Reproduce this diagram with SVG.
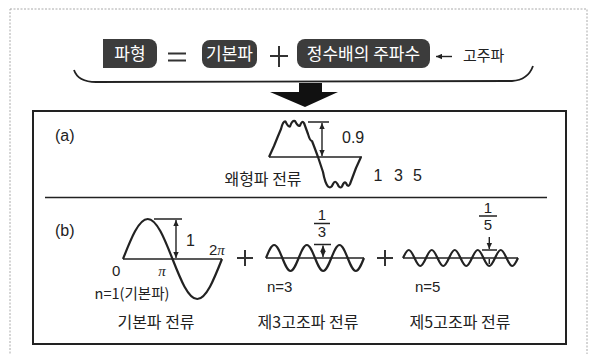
<svg xmlns="http://www.w3.org/2000/svg" width="593" height="354" viewBox="0 0 593 354">
<style>
text{font-family:'Liberation Sans','Noto Sans CJK KR',sans-serif;fill:#222}
.kr{font-family:'Noto Sans CJK KR','Liberation Sans',sans-serif}
.w{fill:#fff;font-size:17px}
.lbl{font-size:16px}
.sm{font-size:15px}
.pi{font-family:'Liberation Serif',serif;font-style:italic}
.ln{stroke:#222;stroke-width:1.5;fill:none}
.wave{stroke:#222;stroke-width:2.2;fill:none;stroke-linejoin:round}
.box{fill:#3c3c3c}
.op{stroke:#333;stroke-width:2;fill:none}
.arr{stroke:#222;stroke-width:1.4;fill:none;marker-end:url(#ah)}
.darr{stroke:#222;stroke-width:1.4;fill:none;marker-start:url(#ah);marker-end:url(#ah)}
</style>
<defs>
<marker id="ah" viewBox="0 0 10 10" refX="10" refY="5" markerWidth="6" markerHeight="6" markerUnits="userSpaceOnUse" orient="auto-start-reverse">
<path d="M0,0.5 L10,5 L0,9.5 z" fill="#222"/>
</marker>
</defs>
<rect id="frame" x="10" y="9" width="577" height="360" fill="none" stroke="#aaa" stroke-width="1" stroke-dasharray="2,1.5"/>

<g id="formula">
<g id="n-waveform">
<path class="box" d="M103,39 H149 A8,8 0 0 1 157,47 V60 A8,8 0 0 1 149,68 H103 Z"/>
<text class="kr w" x="130" y="60" text-anchor="middle">파형</text>
</g>
<g id="eq"><path class="op" d="M168,53.5 H186 M168,60.5 H186"/></g>
<g id="n-fund">
<rect class="box" x="202" y="40" width="55" height="28" rx="8"/>
<text class="kr w" x="229.5" y="60" text-anchor="middle">기본파</text>
</g>
<g id="plus-top"><path class="op" d="M270,56 H288 M279,46 V67"/></g>
<g id="n-harm">
<rect class="box" x="297" y="39" width="133" height="29" rx="8"/>
<text class="kr w" x="363.5" y="60" text-anchor="middle">정수배의 주파수</text>
</g>
<g id="n-high">
<text class="kr sm" x="463" y="61" font-size="16">고주파</text>
</g>
</g>

<g id="connectors">
<path class="arr" d="M452,56.5 H436"/>
<path d="M74,70 Q78,82 96,82 L512,81 Q528,80 533,66" stroke="#222" stroke-width="1.8" fill="none"/>
<polygon points="299,83 322,83 322,92 338,92 305,107 270,92 299,92" fill="#111"/>
</g>

<g id="panel">
<rect x="33" y="111" width="533" height="233" fill="none" stroke="#222" stroke-width="2"/>
<line x1="45" y1="197.5" x2="547" y2="197.5" stroke="#222" stroke-width="1.6"/>
</g>

<g id="a-distorted">
<text class="lbl" x="55" y="141">(a)</text>
<line class="ln" x1="269" y1="157" x2="362" y2="157"/>
<path class="wave" stroke-width="1.8" d="M269,157 L274,146 Q278,136 281,129 Q283,121 285.5,121.5 Q288,127 290,126.5 Q292,120 295,121 Q298,127 300,125.5 Q302,120 304,123 L308,134 Q310,141 312,141 Q314,146 318,157 L323,172 Q325,183 328,186.5 Q331,189 333,184 Q335,179.5 337.5,184 Q339.5,189 342,186.5 Q344,181 346,183 Q348,188 350,184 L356,168 L361,157"/>
<line class="ln" x1="308" y1="122" x2="329" y2="122"/>
<line class="darr" x1="322" y1="123" x2="322" y2="156"/>
<text class="lbl" x="342" y="143">0.9</text>
<text class="kr lbl" x="263" y="185" text-anchor="middle">왜형파 전류</text>
<text class="lbl" x="378" y="181" text-anchor="middle">1</text>
<text class="lbl" x="398.5" y="181" text-anchor="middle">3</text>
<text class="lbl" x="417.5" y="181" text-anchor="middle">5</text>
</g>

<g id="b-fundamental">
<text class="lbl" x="55" y="236">(b)</text>
<line class="ln" x1="123" y1="259" x2="222" y2="259"/>
<path class="wave" d="M123,259 C131.07,238.51 138.79,219 147.75,219 C156.71,219 164.43,238.51 172.5,259 C180.57,279.49 188.29,299 197.25,299 C206.21,299 213.93,279.49 222,259"/>
<line class="ln" x1="154" y1="219" x2="182" y2="219"/>
<line class="darr" x1="176" y1="220" x2="176" y2="258"/>
<text class="lbl" x="186" y="246">1</text>
<text class="sm" x="209" y="255">2<tspan class="pi">π</tspan></text>
<text class="sm" x="112" y="276">0</text>
<text class="sm pi" x="162" y="276" text-anchor="middle">π</text>
<text class="kr" x="132" y="299" font-size="14.5" text-anchor="middle">n=1(기본파)</text>
<text class="kr lbl" x="156" y="328" text-anchor="middle">기본파 전류</text>
</g>

<g id="plus1"><path class="op" d="M237,258 H253 M245,250 V266"/></g>

<g id="b-third">
<text class="sm" x="322" y="220" text-anchor="middle">1</text>
<line class="ln" x1="314" y1="223.5" x2="330" y2="223.5"/>
<text class="sm" x="322" y="237" text-anchor="middle">3</text>
<line class="ln" x1="266" y1="258" x2="364" y2="258"/>
<path class="wave" d="M266,258 c2.663,-6.66 5.211,-13 8.167,-13 c2.956,0 5.504,6.34 8.167,13 c2.663,6.66 5.211,13 8.167,13 c2.956,0 5.504,-6.34 8.167,-13 c2.663,-6.66 5.211,-13 8.167,-13 c2.956,0 5.504,6.34 8.167,13 c2.663,6.66 5.211,13 8.167,13 c2.956,0 5.504,-6.34 8.167,-13 c2.663,-6.66 5.211,-13 8.167,-13 c2.956,0 5.504,6.34 8.167,13 c2.663,6.66 5.211,13 8.167,13 c2.956,0 5.504,-6.34 8.167,-13"/>
<line class="ln" x1="314" y1="244.5" x2="331" y2="244.5"/>
<line class="darr" stroke-width="1.2" x1="323" y1="245.5" x2="323" y2="257"/>
<text class="sm" x="267" y="292">n=3</text>
<text class="kr lbl" x="308" y="328" text-anchor="middle">제3고조파 전류</text>
</g>

<g id="plus2"><path class="op" d="M377,258 H393 M385,250 V266"/></g>

<g id="b-fifth">
<text class="sm" x="488" y="213" text-anchor="middle">1</text>
<line class="ln" x1="479" y1="216" x2="497" y2="216"/>
<text class="sm" x="488" y="230" text-anchor="middle">5</text>
<line class="ln" x1="403" y1="258" x2="518" y2="258"/>
<path class="wave" d="M403,258 c1.875,-4.098 3.669,-8 5.75,-8 c2.081,0 3.875,3.902 5.75,8 c1.875,4.098 3.669,8 5.75,8 c2.081,0 3.875,-3.902 5.75,-8 c1.875,-4.098 3.669,-8 5.75,-8 c2.081,0 3.875,3.902 5.75,8 c1.875,4.098 3.669,8 5.75,8 c2.081,0 3.875,-3.902 5.75,-8 c1.875,-4.098 3.669,-8 5.75,-8 c2.081,0 3.875,3.902 5.75,8 c1.875,4.098 3.669,8 5.75,8 c2.081,0 3.875,-3.902 5.75,-8 c1.875,-4.098 3.669,-8 5.75,-8 c2.081,0 3.875,3.902 5.75,8 c1.875,4.098 3.669,8 5.75,8 c2.081,0 3.875,-3.902 5.75,-8 c1.875,-4.098 3.669,-8 5.75,-8 c2.081,0 3.875,3.902 5.75,8 c1.875,4.098 3.669,8 5.75,8 c2.081,0 3.875,-3.902 5.75,-8"/>
<line class="ln" x1="482" y1="250" x2="497" y2="250"/>
<line class="arr" stroke-width="1.2" x1="489.3" y1="237" x2="489.3" y2="249"/>
<line class="ln" stroke-width="1.2" x1="489.3" y1="259" x2="489.3" y2="264"/>
<text class="sm" x="415" y="292">n=5</text>
<text class="kr lbl" x="460" y="328" text-anchor="middle">제5고조파 전류</text>
</g>
</svg>
